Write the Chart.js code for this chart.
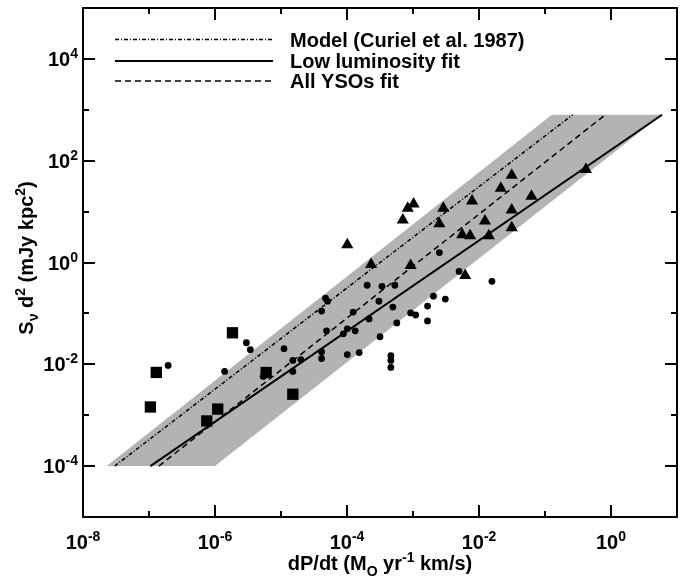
<!DOCTYPE html>
<html>
<head>
<meta charset="utf-8">
<script src="https://cdn.jsdelivr.net/npm/chart.js@4/dist/chart.umd.min.js"></script>
<style>
  html, body { margin: 0; padding: 0; background: #fff; }
</style>
</head>
<body>
<canvas id="fig" width="685" height="579"></canvas>
<script>
// dP/dt (Msun/yr km/s) vs S d^2 (mJy kpc^2)
var circleX = [1.95e-7, 2.99e-6, 3.43e-6, 1.40e-6, 1.11e-5, 4.12e-5, 4.9e-5, 8.8e-5, 1.51e-5, 2.0e-5,
               1.51e-5, 4.12e-5, 4.12e-5, 1.01e-4, 5.37e-6, 2.51e-3, 5.0e-3, 0.0157, 4.73e-5, 5.07e-5,
               2.02e-4, 3.39e-4, 5.31e-4, 3.05e-4, 1.24e-4, 4.95e-4, 2.04e-3, 3.09e-3, 1.66e-3, 9.2e-4,
               1.10e-3, 1.66e-3, 2.16e-4, 5.69e-4, 1.01e-4, 1.33e-4, 3.16e-4, 1.53e-4, 4.62e-4, 4.62e-4,
               4.62e-4];
var circleY = [0.0095, 0.0265, 0.0194, 0.00724, 0.0203, 0.111, 0.0455, 0.0397, 0.0119, 0.0124,
               0.00724, 0.0177, 0.0130, 0.0155, 0.00579, 1.57, 0.668, 0.427, 0.1995, 0.174,
               0.357, 0.341, 0.357, 0.174, 0.106, 0.133, 0.218, 0.191, 0.139, 0.102,
               0.093, 0.0711, 0.0778, 0.065, 0.0497, 0.0455, 0.0348, 0.017, 0.0148, 0.0119,
               0.00867];

var squareX = [1.84e-6, 1.29e-7, 1.05e-7, 1.10e-6, 7.5e-7, 5.96e-6, 1.51e-5];
var squareY = [0.0416, 0.00692, 0.00145, 0.00132, 7.7e-4, 0.0069, 0.00258];

var triangleX = [1.01e-4, 2.32e-4, 7.0e-4, 8.32e-4, 1.02e-3, 9.2e-4, 2.88e-3, 2.51e-3, 7.85e-3, 5.56e-3,
                 7.33e-3, 0.0123, 0.0214, 0.0313, 0.0313, 0.0313, 0.0141, 0.0624, 6.17e-3, 0.417];
var triangleY = [2.24, 0.914, 6.87, 11.7, 14.1, 0.875, 11.7, 5.74, 16.1, 3.51,
                 3.35, 6.56, 28.8, 51.5, 10.7, 4.80, 3.35, 20.1, 0.558, 67.4];

// fit lines, end points
var modelX = [3.02e-8, 0.263];
var modelY = [1e-4, 800];
var lowLumX = [1.05e-7, 5.95];
var lowLumY = [1e-4, 800];
var allYsoX = [1.41e-7, 0.822];
var allYsoY = [1e-4, 800];

// grey band
var bandTopX = [2.29e-8, 0.127, 5.89];
var bandTopY = [1e-4, 800, 800];
var bandLowX = [2.29e-8, 1e-6, 5.89];
var bandLowY = [1e-4, 1e-4, 800];

// axes
var xTickExp = [-8, -7, -6, -5, -4, -3, -2, -1, 0, 1];
var xLabelExp = [-8, -6, -4, -2, 0];
var yTickExp = [-5, -4, -3, -2, -1, 0, 1, 2, 3, 4, 5];
var yLabelExp = [-4, -2, 0, 2, 4];

var legendText = ["Model (Curiel et al. 1987)", "Low luminosity fit", "All YSOs fit"];

function pts(xs, ys) {
    return xs.map(function (x, i) { return {x: x, y: ys[i]}; });
}

var FONT = '"Liberation Sans", Arial, Helvetica, sans-serif';

function setFont(ctx, size) {
    ctx.font = 'bold ' + size + 'px ' + FONT;
}

function richWidth(ctx, parts) {
    var w = 0;
    parts.forEach(function (p) {
        setFont(ctx, p.size);
        w += ctx.measureText(p.text).width;
    });
    return w;
}

function drawRich(ctx, parts, x, y, align) {
    var w = richWidth(ctx, parts);
    var cx = x;
    if (align === 'center') cx = x - w / 2;
    if (align === 'right') cx = x - w;
    ctx.textAlign = 'left';
    ctx.textBaseline = 'alphabetic';
    ctx.fillStyle = '#000';
    parts.forEach(function (p) {
        setFont(ctx, p.size);
        ctx.fillText(p.text, cx, y + (p.dy || 0));
        cx += ctx.measureText(p.text).width;
    });
}

function tickParts(e) {
    return [{text: '10', size: 20}, {text: String(e), size: 14, dy: -8}];
}

var framePlugin = {
    id: 'frame',
    afterDraw: function (chart) {
        var ctx = chart.ctx;
        var a = chart.chartArea;
        var xs = chart.scales.x, ys = chart.scales.y;
        ctx.save();
        ctx.strokeStyle = '#000';
        ctx.lineWidth = 2;
        ctx.strokeRect(a.left, a.top, a.right - a.left, a.bottom - a.top);

        xTickExp.forEach(function (e) {
            var px = Math.round(xs.getPixelForValue(Math.pow(10, e)));
            var len = (e % 2 === 0) ? 12 : 6;
            ctx.beginPath();
            ctx.moveTo(px, a.bottom); ctx.lineTo(px, a.bottom - len);
            ctx.moveTo(px, a.top); ctx.lineTo(px, a.top + len);
            ctx.stroke();
        });
        yTickExp.forEach(function (e) {
            var py = Math.round(ys.getPixelForValue(Math.pow(10, e)));
            var len = (e % 2 === 0) ? 12 : 6;
            ctx.beginPath();
            ctx.moveTo(a.left, py); ctx.lineTo(a.left + len, py);
            ctx.moveTo(a.right, py); ctx.lineTo(a.right - len, py);
            ctx.stroke();
        });

        xLabelExp.forEach(function (e) {
            var px = xs.getPixelForValue(Math.pow(10, e));
            drawRich(ctx, tickParts(e), px, a.bottom + 32, 'center');
        });
        yLabelExp.forEach(function (e) {
            var py = ys.getPixelForValue(Math.pow(10, e));
            drawRich(ctx, tickParts(e), a.left - 5, py + 7, 'right');
        });

        // axis titles
        drawRich(ctx, [
            {text: 'dP/dt (M', size: 20},
            {text: 'O', size: 14, dy: 6},
            {text: ' yr', size: 20},
            {text: '-1', size: 14, dy: -8},
            {text: ' km/s)', size: 20}
        ], (a.left + a.right) / 2, 570, 'center');

        ctx.save();
        ctx.translate(33, 258);
        ctx.rotate(-Math.PI / 2);
        drawRich(ctx, [
            {text: 'S', size: 20},
            {text: '\u03bd', size: 14, dy: 5},
            {text: ' d', size: 20},
            {text: '2', size: 14, dy: -8},
            {text: ' (mJy kpc', size: 20},
            {text: '2', size: 14, dy: -8},
            {text: ')', size: 20}
        ], 0, 0, 'center');
        ctx.restore();

        // legend
        var rows = [39.5, 61, 81];
        var dashes = [[4, 2, 1, 2], [], [6, 4]];
        var widths = [1.5, 2, 1.5];
        rows.forEach(function (ry, i) {
            ctx.beginPath();
            ctx.setLineDash(dashes[i]);
            ctx.lineWidth = widths[i];
            ctx.moveTo(115, ry); ctx.lineTo(273, ry);
            ctx.stroke();
            ctx.setLineDash([]);
            drawRich(ctx, [{text: legendText[i], size: 20}], 290, ry + 7, 'left');
        });
        ctx.restore();
    }
};

var ctx_fig = document.getElementById('fig');
var fig = new Chart(ctx_fig, {
    type: 'scatter',
    data: {
        datasets: [{
            label: 'circles',
            data: pts(circleX, circleY),
            pointStyle: 'circle',
            pointRadius: 3.4,
            backgroundColor: '#000',
            borderWidth: 0,
            order: 1
        }, {
            label: 'squares',
            data: pts(squareX, squareY),
            pointStyle: 'rect',
            pointRadius: 8,
            backgroundColor: '#000',
            borderWidth: 0,
            order: 1
        }, {
            label: 'triangles',
            data: pts(triangleX, triangleY),
            pointStyle: 'triangle',
            pointRadius: 7,
            backgroundColor: '#000',
            borderWidth: 0,
            order: 1
        }, {
            label: legendText[0],
            data: pts(modelX, modelY),
            showLine: true,
            borderColor: '#000',
            borderWidth: 1.5,
            borderDash: [4, 2, 1, 2],
            pointRadius: 0,
            fill: false,
            order: 2
        }, {
            label: legendText[1],
            data: pts(lowLumX, lowLumY),
            showLine: true,
            borderColor: '#000',
            borderWidth: 2,
            pointRadius: 0,
            fill: false,
            order: 2
        }, {
            label: legendText[2],
            data: pts(allYsoX, allYsoY),
            showLine: true,
            borderColor: '#000',
            borderWidth: 1.5,
            borderDash: [6, 4],
            pointRadius: 0,
            fill: false,
            order: 2
        }, {
            label: 'band top',
            data: pts(bandTopX, bandTopY),
            showLine: true,
            borderWidth: 0,
            borderColor: 'rgba(0,0,0,0)',
            backgroundColor: '#b3b3b3',
            pointRadius: 0,
            fill: '+1',
            order: 5
        }, {
            label: 'band low',
            data: pts(bandLowX, bandLowY),
            showLine: true,
            borderWidth: 0,
            borderColor: 'rgba(0,0,0,0)',
            pointRadius: 0,
            fill: false,
            order: 6
        }]
    },
    options: {
        responsive: false,
        devicePixelRatio: 1,
        animation: false,
        layout: { padding: { left: 83, right: 2, top: 3, bottom: 62 } },
        scales: {
            x: { type: 'logarithmic', min: 1e-8, max: 10, display: false },
            y: { type: 'logarithmic', min: 1e-5, max: 1e5, display: false }
        },
        plugins: {
            legend: { display: false },
            tooltip: { enabled: false }
        }
    },
    plugins: [framePlugin]
});
</script>
</body>
</html>
